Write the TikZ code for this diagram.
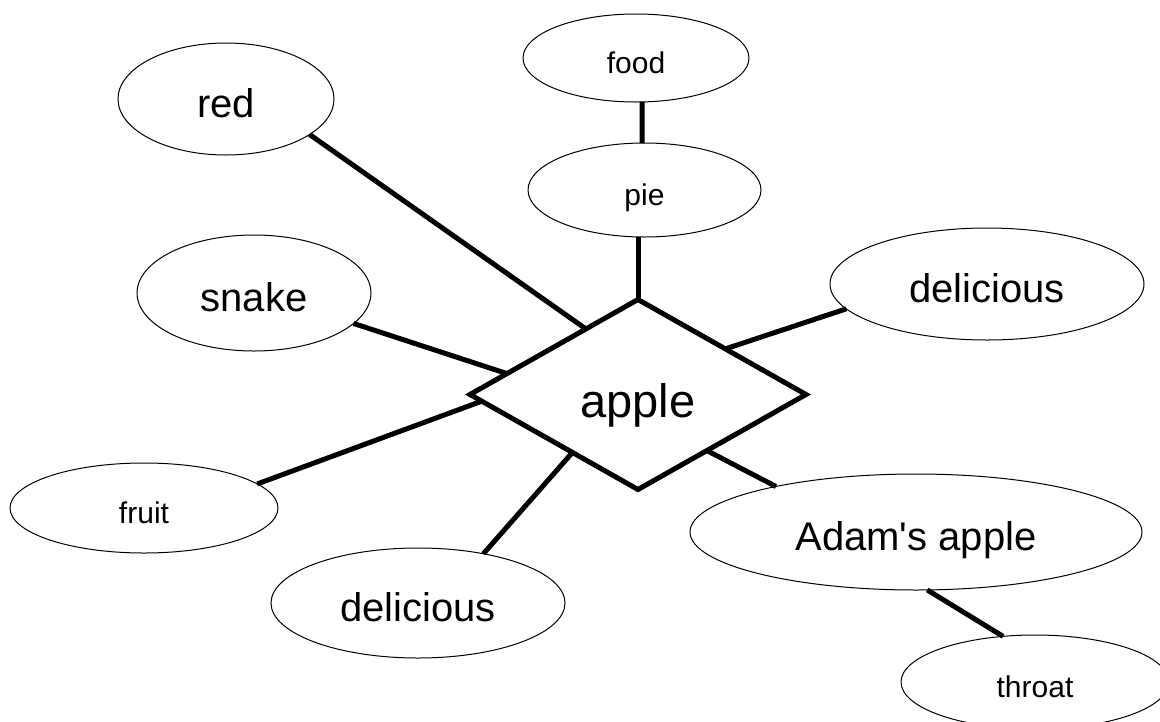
\documentclass[tikz,border=0pt]{standalone}
\usepackage{fontspec}
\setmainfont{Liberation Sans}
\usetikzlibrary{shapes.geometric,calc}

\tikzset{
  word/.style={draw,ellipse,line width=1pt,inner sep=0pt,outer sep=0pt,text depth=0pt},
  bigword/.style={word,text height=36pt,font=\fontsize{40}{48}\selectfont},
  smallword/.style={word,text height=30pt,font=\fontsize{30}{36}\selectfont},
  hub/.style={draw,diamond,line width=5pt,inner sep=0pt,outer sep=0pt,
    text height=45pt,text depth=0pt,
    minimum width=336pt,minimum height=190pt,font=\fontsize{47}{56}\selectfont},
  link/.style={line width=5pt},
}

\begin{document}
\begin{tikzpicture}[x=1pt,y=-1pt]
                \useasboundingbox (0,0) rectangle (1160,721);
                \node[hub] (apple) at (638,394.5) {apple};
                \node[bigword,minimum width=216pt,minimum height=112pt] (red) at (226,99) {red};
                \node[bigword,minimum width=234pt,minimum height=116pt] (snake) at (254,293) {snake};
                \node[smallword,minimum width=268pt,minimum height=90pt] (fruit) at (144,508) {fruit};
                \node[bigword,minimum width=294pt,minimum height=110pt] (deliciousB) at (418,603) {delicious};
                \node[bigword,minimum width=452pt,minimum height=116pt] (adam) at (916,532) {Adam\textquotesingle s apple};
                \node[smallword,minimum width=268pt,minimum height=94pt] (throat) at (1035,682) {throat};
                \node[bigword,minimum width=314pt,minimum height=112pt] (deliciousR) at (987,284) {delicious};
                \node[smallword,minimum width=233pt,minimum height=94pt] (pie) at (644.5,190) {pie};
                \node[smallword,minimum width=226pt,minimum height=88pt] (food) at (636,58) {food};
                \draw[link] (red.-23) -- ($(apple.north)!0.31!(apple.west)$);
                \draw[link] (snake.-17) -- ($(apple.north)!0.78!(apple.west)$);
                \draw[link] (fruit.12) -- ($(apple.west)!0.07!(apple.south)$);
                \draw[link] (deliciousB.37) -- ($(apple.west)!0.61!(apple.south)$);
                \draw[link] (adam.162) -- ($(apple.south)!0.41!(apple.east)$);
                \draw[link] (deliciousR.190) -- ($(apple.north)!0.52!(apple.east)$);
                \draw[link] (apple.north) -- (apple.north |- pie.south);
                \draw[link] (food.-82) -- (pie.93);
                \draw[link] (adam.-79) -- (throat.125);
            \end{tikzpicture}
\end{document}
